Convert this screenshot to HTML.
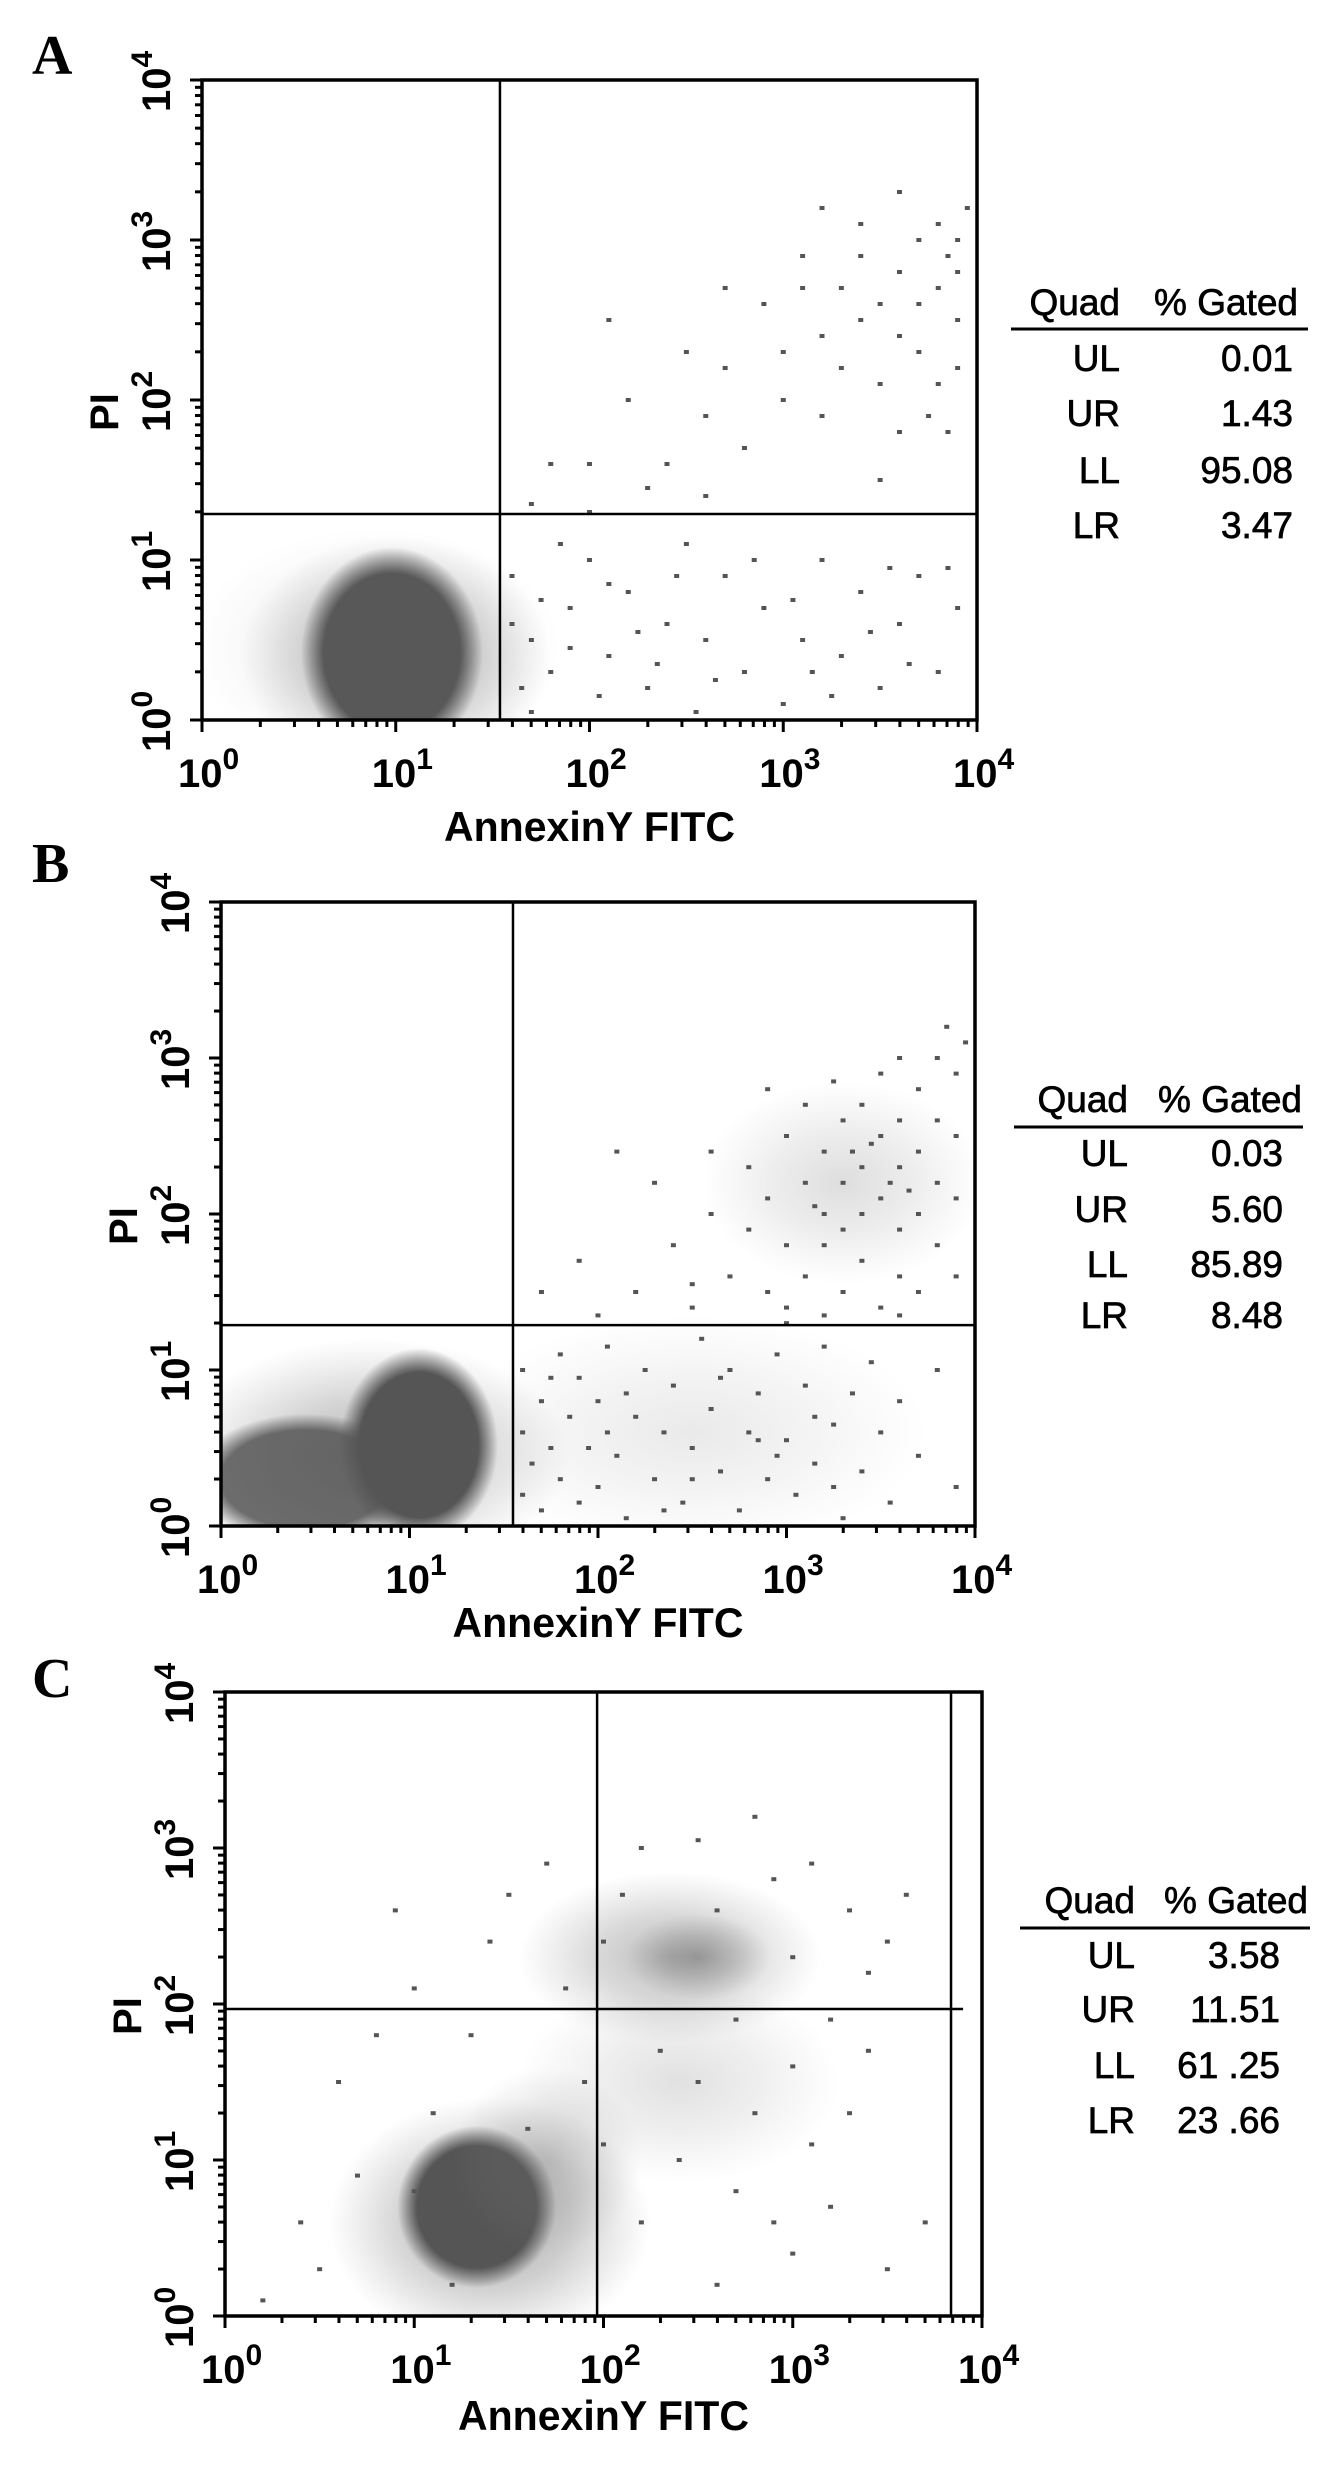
<!DOCTYPE html>
<html><head><meta charset="utf-8"><style>
html,body{margin:0;padding:0;background:#fff}
svg{display:block}
</style></head><body>
<svg id="fig" width="1332" height="2480" viewBox="0 0 1332 2480" xmlns="http://www.w3.org/2000/svg">
<defs>
<radialGradient id="gCore"><stop offset="0" stop-color="#555" stop-opacity="1"/><stop offset="0.75" stop-color="#555" stop-opacity="1"/><stop offset="1" stop-color="#555" stop-opacity="0"/></radialGradient>
<radialGradient id="gSoft"><stop offset="0" stop-color="#666" stop-opacity="1"/><stop offset="0.5" stop-color="#777" stop-opacity="0.6"/><stop offset="1" stop-color="#888" stop-opacity="0"/></radialGradient>
</defs>
</svg>
<script>
// ---------- data (log10 decades of fluorescence) ----------
const quadLabels = ["UL","UR","LL","LR"];
const pctA = ["0.01","1.43","95.08","3.47"];
const pctB = ["0.03","5.60","85.89","8.48"];
const pctC = ["3.58","11.51","61 .25","23 .66"];
const quadXA = 34.5, quadYA = 19.4;
const quadXB = 35.4, quadYB = 19.4;
const quadXC = 92.5, quadYC = 92.9, gateC = 6860;
const xTickExp = [0,1,2,3,4];
const yTickExp = [0,1,2,3,4];

// blobs: center x, center y, radius x, radius y (decades), shade, kind
const blobXA = [1.0, 0.98, 0.9];
const blobYA = [0.4, 0.42, 0.45];
const blobRXA = [0.8, 0.47, 0.95];
const blobRYA = [0.75, 0.66, 0.75];
const blobShadeA = [0.55, 1, 0.15];
const blobKindA = ["soft","core","soft"];

const blobXB = [0.8, 0.45, 1.05, 3.3, 2.5];
const blobYB = [0.45, 0.3, 0.52, 2.2, 0.6];
const blobRXB = [1.05, 0.6, 0.42, 0.75, 1.25];
const blobRYB = [0.75, 0.42, 0.62, 0.65, 0.75];
const blobShadeB = [0.5, 0.85, 1, 0.22, 0.14];
const blobKindB = ["soft","core","core","soft","soft"];

const blobXC = [1.4, 1.33, 2.4, 2.35, 2.5, 1.7];
const blobYC = [0.6, 0.7, 1.5, 2.3, 2.3, 1.0];
const blobRXC = [0.85, 0.42, 0.85, 0.8, 0.38, 0.5];
const blobRYC = [0.8, 0.52, 0.65, 0.55, 0.28, 0.6];
const blobShadeC = [0.6, 1, 0.2, 0.45, 0.5, 0.3];
const blobKindC = ["soft","core","soft","soft","soft","soft"];

const dotsA = [[1.8,1.6],[2.0,1.6],[2.3,1.45],[2.1,2.5],[2.2,2.0],[2.5,2.3],[2.6,1.9],[2.7,2.2],[2.8,1.7],[2.9,2.6],[3.0,2.3],[3.0,2.0],[3.1,2.7],[3.2,2.4],[3.2,1.9],[3.3,2.7],[3.3,2.2],[3.4,2.5],[3.4,2.9],[3.5,2.6],[3.5,2.1],[3.6,2.8],[3.6,2.4],[3.6,1.8],[3.7,3.0],[3.7,2.6],[3.7,2.3],[3.8,2.7],[3.8,2.1],[3.8,3.1],[3.85,2.9],[3.9,2.5],[3.9,2.8],[3.95,3.2],[3.9,3.0],[3.6,3.3],[3.75,1.9],[3.85,1.8],[2.4,1.6],[2.7,2.7],[3.1,2.9],[3.4,3.1],[2.0,1.3],[2.6,1.4],[3.5,1.5],[3.9,2.2],[3.2,3.2],[1.7,1.35],
[1.6,0.9],[1.7,0.5],[1.8,0.3],[1.9,0.7],[2.0,1.0],[2.1,0.4],[2.2,0.8],[2.3,0.2],[2.4,0.6],[2.5,1.1],[2.6,0.5],[2.7,0.9],[2.8,0.3],[2.9,0.7],[3.0,0.1],[3.1,0.5],[3.2,1.0],[3.3,0.4],[3.4,0.8],[3.5,0.2],[3.6,0.6],[3.7,0.9],[3.8,0.3],[3.9,0.7],[1.65,0.2],[1.75,0.75],[1.85,1.1],[2.05,0.15],[2.25,0.55],[2.45,0.9],[2.65,0.25],[2.85,1.0],[3.05,0.75],[3.25,0.15],[3.45,0.55],[3.65,0.35],[3.85,0.95],[1.6,0.6],[1.7,0.05],[1.9,0.45],[2.1,0.85],[2.35,0.35],[3.15,0.3],[3.55,0.95],[2.55,0.05]];

const dotsB = [[2.2,1.5],[2.4,1.8],[2.5,1.4],[2.6,2.0],[2.7,1.6],[2.8,2.3],[2.8,1.9],[2.9,1.5],[2.9,2.1],[3.0,2.5],[3.0,1.8],[3.0,1.4],[3.1,2.2],[3.1,2.7],[3.1,1.6],[3.2,2.0],[3.2,2.4],[3.2,1.8],[3.3,2.6],[3.3,2.2],[3.3,1.5],[3.3,1.9],[3.4,2.3],[3.4,2.0],[3.4,2.7],[3.4,1.7],[3.5,2.5],[3.5,2.1],[3.5,1.4],[3.5,2.9],[3.6,2.3],[3.6,1.9],[3.6,2.6],[3.6,1.6],[3.7,2.4],[3.7,2.0],[3.7,2.8],[3.7,1.5],[3.8,2.2],[3.8,2.6],[3.8,1.8],[3.8,3.0],[3.9,2.5],[3.9,2.9],[3.9,2.1],[3.95,3.1],[3.85,3.2],[3.6,3.0],[2.9,2.8],[2.6,2.4],[2.3,2.2],[1.9,1.7],[2.1,2.4],[1.7,1.5],[2.0,1.35],[2.5,1.55],[3.0,1.3],[3.2,1.35],[3.6,1.35],[3.9,1.6],[3.25,2.85],[3.45,2.45],[3.15,2.05],[3.55,2.2],[3.65,2.15],[3.35,2.4],
[1.6,0.2],[1.6,0.6],[1.6,1.0],[1.65,0.4],[1.7,0.8],[1.7,0.1],[1.75,0.5],[1.8,1.1],[1.8,0.3],[1.85,0.7],[1.9,0.15],[1.9,0.95],[1.95,0.5],[2.0,0.25],[2.0,0.8],[2.05,1.15],[2.1,0.45],[2.15,0.05],[2.2,0.7],[2.25,1.0],[2.3,0.3],[2.35,0.6],[2.4,0.9],[2.45,0.15],[2.5,0.5],[2.55,1.2],[2.6,0.75],[2.65,0.35],[2.7,1.0],[2.75,0.1],[2.8,0.6],[2.85,0.85],[2.9,0.3],[2.95,1.1],[3.0,0.55],[3.05,0.2],[3.1,0.9],[3.15,0.4],[3.2,1.15],[3.25,0.65],[3.3,0.05],[3.35,0.85],[3.4,0.35],[3.45,1.05],[3.5,0.6],[3.55,0.15],[3.6,0.8],[3.7,0.45],[3.8,1.0],[3.9,0.25],[2.05,0.6],[2.35,0.1],[2.65,0.95],[2.95,0.45],[3.25,0.25],[1.75,0.95],[2.15,0.85],[2.5,0.3],[2.85,0.55],[3.15,0.7]];

const dotsC = [[0.2,0.1],[0.5,0.3],[0.7,0.9],[0.6,1.5],[0.8,1.8],[1.0,2.1],[0.9,2.6],[1.5,2.7],[1.7,2.9],[2.0,2.4],[1.8,2.1],[1.6,1.2],[1.3,1.8],[1.1,1.3],[2.2,3.0],[2.5,3.05],[2.8,3.2],[2.9,2.8],[3.1,2.9],[3.3,2.6],[3.5,2.4],[3.6,2.7],[3.4,2.2],[3.2,1.9],[3.0,1.6],[2.8,1.3],[3.1,1.1],[3.2,0.7],[3.5,0.3],[3.0,0.4],[2.7,0.8],[2.6,0.2],[2.9,0.6],[2.4,1.0],[2.2,0.6],[2.5,1.5],[2.7,1.9],[2.3,1.7],[1.9,1.5],[2.0,1.1],[1.2,0.2],[0.4,0.6],[3.7,0.6],[3.3,1.3],[3.4,1.7],[2.1,2.7],[1.4,2.4],[2.6,2.6],[3.0,2.3],[1.0,0.8]];

// ---------- layout ----------
const NS = "http://www.w3.org/2000/svg";
const svg = document.getElementById("fig");
function mk(tag, attrs, parent){
  const e = document.createElementNS(NS, tag);
  for (const k in attrs) e.setAttribute(k, attrs[k]);
  (parent||svg).appendChild(e);
  return e;
}
const panels = [
  {id:"a", label:"A", L:202, R:977, T:80, B:720, ly:74, titleDy:121, qx:quadXA, qy:quadYA, hEnd:null, gate:null,
   bx:blobXA, by:blobYA, brx:blobRXA, bry:blobRYA, bs:blobShadeA, bk:blobKindA, dots:dotsA, pct:pctA,
   tab:{hy:315, uy:329, u1:1011, u2:1308, rows:[371,426,483,538], qR:1120, vR:1293, gR:1298}},
  {id:"b", label:"B", L:221, R:975, T:902, B:1526, ly:882, titleDy:111, qx:quadXB, qy:quadYB, hEnd:null, gate:null,
   bx:blobXB, by:blobYB, brx:blobRXB, bry:blobRYB, bs:blobShadeB, bk:blobKindB, dots:dotsB, pct:pctB,
   tab:{hy:1112, uy:1127, u1:1014, u2:1303, rows:[1166,1222,1277,1328], qR:1128, vR:1283, gR:1302}},
  {id:"c", label:"C", L:225, R:982, T:1692, B:2316, ly:1697, titleDy:114, qx:quadXC, qy:quadYC, hEnd:7943, gate:gateC,
   bx:blobXC, by:blobYC, brx:blobRXC, bry:blobRYC, bs:blobShadeC, bk:blobKindC, dots:dotsC, pct:pctC,
   tab:{hy:1913, uy:1928, u1:1020, u2:1310, rows:[1968,2022,2078,2133], qR:1135, vR:1280, gR:1308}}
];
const FONT = '"Liberation Sans", Arial, sans-serif';

panels.forEach(p => {
  const dx = (p.R - p.L) / 4, dy = (p.B - p.T) / 4;
  const sx = d => p.L + d * dx;
  const sy = d => p.B - d * dy;
  const g = mk("g", {});
  
  

  const lab = mk("text", {x:32, y:p.ly, "font-family":'"Liberation Serif", serif', "font-weight":"bold", "font-size":56, fill:"#000"}, g);
  lab.textContent = p.label;
  
  

  const cp = mk("clipPath", {id:"clip-" + p.id}, g);
  mk("rect", {x:p.L, y:p.T, width:p.R - p.L, height:p.B - p.T}, cp);
  const plot = mk("g", {"clip-path":"url(#clip-" + p.id + ")"}, g);
  
  

  for (let i = 0; i < p.bx.length; i++) {
    const e = mk("ellipse", {cx:sx(p.bx[i]), cy:sy(p.by[i]), rx:p.brx[i]*dx, ry:p.bry[i]*dy,
      fill:p.bk[i] === "core" ? "url(#gCore)" : "url(#gSoft)", "fill-opacity":p.bs[i]}, plot);
    
    
  }
  p.dots.forEach(d => {
    const r = mk("rect", {x:sx(d[0]) - 2.5, y:sy(d[1]) - 2, width:5, height:4, fill:"#555"}, plot);
    
    
  });

  const qxp = sx(Math.log10(p.qx)), qyp = sy(Math.log10(p.qy));
  const vl = mk("line", {x1:qxp, x2:qxp, y1:p.T, y2:p.B, stroke:"#000", "stroke-width":2.5}, g);
  
  
  const hx2 = p.hEnd ? sx(Math.log10(p.hEnd)) : p.R;
  const hl = mk("line", {x1:p.L, x2:hx2, y1:qyp, y2:qyp, stroke:"#000", "stroke-width":2.5}, g);
  
  
  if (p.gate) {
    const gx = sx(Math.log10(p.gate));
    const gl = mk("line", {x1:gx, x2:gx, y1:p.T, y2:p.B, stroke:"#000", "stroke-width":2.5}, g);
    
    
  }

  const box = mk("rect", {x:p.L, y:p.T, width:p.R - p.L, height:p.B - p.T, fill:"none", stroke:"#000", "stroke-width":3.5}, g);
  
  

  const tk = mk("g", {stroke:"#000", "stroke-width":3}, g);
  
  
  for (let d = 0; d < 4; d++) {
    for (let m = 1; m <= 9; m++) {
      const v = d + Math.log10(m);
      const len = m === 1 ? 12 : 7;
      mk("line", {x1:sx(v), x2:sx(v), y1:p.B, y2:p.B + len}, tk);
      mk("line", {x1:p.L - len, x2:p.L, y1:sy(v), y2:sy(v)}, tk);
    }
  }
  mk("line", {x1:sx(4), x2:sx(4), y1:p.B, y2:p.B + 12}, tk);
  mk("line", {x1:p.L - 12, x2:p.L, y1:sy(4), y2:sy(4)}, tk);

  xTickExp.forEach(e => {
    const t = mk("text", {x:sx(e) - 24, y:p.B + 67, "font-family":FONT, "font-weight":"bold", "font-size":40, fill:"#000"}, g);
    
    
    const a = mk("tspan", {}, t); a.textContent = "10";
    const b = mk("tspan", {dy:-18, "font-size":30}, t); b.textContent = String(e);
  });
  yTickExp.forEach(e => {
    const x0 = p.L - 32, y0 = sy(e) + 32;
    const t = mk("text", {x:x0, y:y0, transform:"rotate(-90 " + x0 + " " + y0 + ")", "font-family":FONT, "font-weight":"bold", "font-size":40, fill:"#000"}, g);
    
    
    const a = mk("tspan", {}, t); a.textContent = "10";
    const b = mk("tspan", {dy:-18, "font-size":30}, t); b.textContent = String(e);
  });

  const px = p.L - 84, py = sy(2) + 12;
  const yt = mk("text", {x:px, y:py, transform:"rotate(-90 " + px + " " + py + ")", "text-anchor":"middle", "font-family":FONT, "font-weight":"bold", "font-size":40, fill:"#000"}, g);
  yt.textContent = "PI";
  
  

  const xt = mk("text", {x:(p.L + p.R) / 2, y:p.B + p.titleDy, "text-anchor":"middle", textLength:291, lengthAdjust:"spacingAndGlyphs", "font-family":FONT, "font-weight":"bold", "font-size":42, fill:"#000"}, g);
  xt.textContent = "AnnexinY FITC";
  
  

  const tb = mk("g", {"font-family":FONT, "font-size":37, fill:"#000", stroke:"#000", "stroke-width":0.7}, g);
  
  
  const h1 = mk("text", {x:p.tab.qR, y:p.tab.hy, "text-anchor":"end"}, tb); h1.textContent = "Quad";
  
  
  const h2 = mk("text", {x:p.tab.gR, y:p.tab.hy, "text-anchor":"end"}, tb); h2.textContent = "% Gated";
  
  
  const ul = mk("line", {x1:p.tab.u1, x2:p.tab.u2, y1:p.tab.uy, y2:p.tab.uy, stroke:"#000", "stroke-width":3}, tb);
  
  
  quadLabels.forEach((q, i) => {
    const a = mk("text", {x:p.tab.qR, y:p.tab.rows[i], "text-anchor":"end"}, tb); a.textContent = q;
    
    
    const b = mk("text", {x:p.tab.vR, y:p.tab.rows[i], "text-anchor":"end"}, tb); b.textContent = p.pct[i];
    
    
  });
});
</script>
</body></html>
